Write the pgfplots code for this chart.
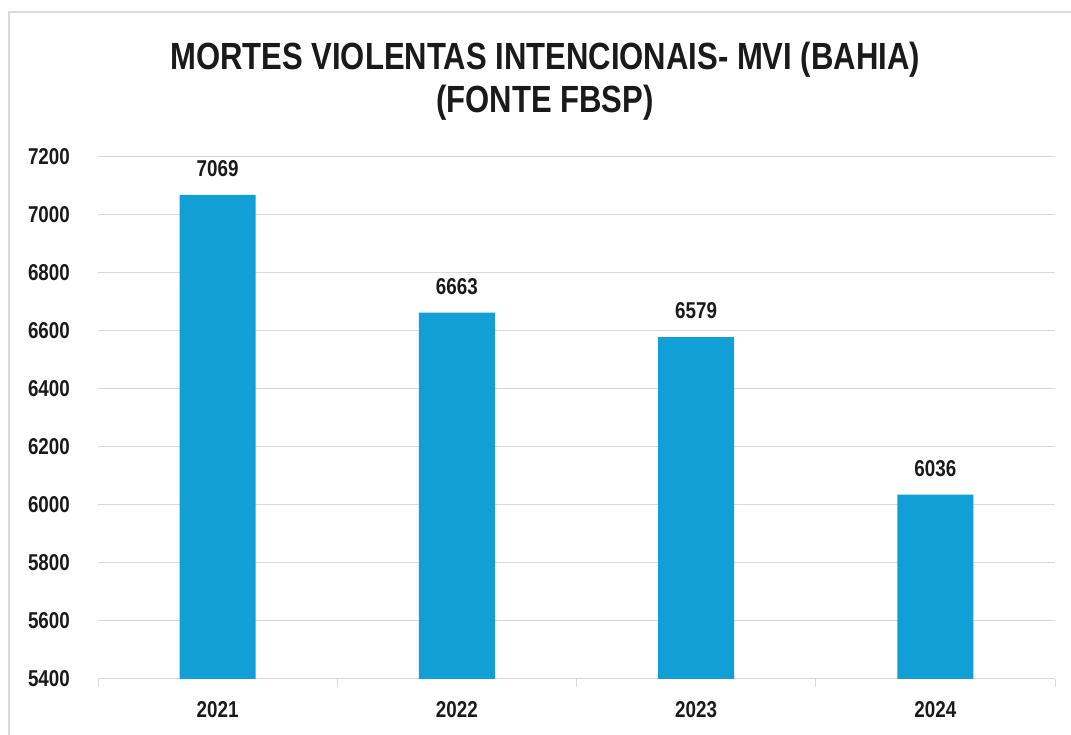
\documentclass[border=0pt]{standalone}
\usepackage{fontspec}
\setmainfont[FakeStretch=0.82]{Liberation Sans}
\usepackage{pgfplots}
\pgfplotsset{compat=1.18}
\definecolor{barblue}{HTML}{119FD6}
\definecolor{gridgray}{HTML}{D9D9D9}
\definecolor{txt}{HTML}{1A1A1A}
\begin{document}
\begin{tikzpicture}[x=1bp,y=1bp]
\useasboundingbox (0,0) rectangle (1071,735);
\draw[gridgray, line width=1.5bp] (9,-5) -- (9,723) -- (1080,723);
\node[font=\fontsize{38}{43}\selectfont\bfseries, align=center, text=txt, inner sep=0pt] at (545,654) {MORTES VIOLENTAS INTENCIONAIS- MVI (BAHIA)\\(FONTE FBSP)};
\begin{axis}[
  at={(98bp,56bp)}, anchor=south west,
  width=957bp, height=522bp, scale only axis,
  xmin=-0.5, xmax=3.5, ymin=5400, ymax=7200,
  ytick={5400,5600,...,7200},
  xtick={0,1,2,3}, xticklabels={2021,2022,2023,2024},
  axis x line*=bottom, axis y line*=left,
  y axis line style={draw=none},
  x axis line style={gridgray, line width=1bp, -},
  ymajorgrids, grid style={gridgray, line width=1bp},
  major tick length=0pt,
  extra x ticks={-0.5,0.5,1.5,2.5,3.5}, extra x tick labels={},
  extra x tick style={major tick length=8bp, tick align=outside, tick style={gridgray, line width=1bp}, grid=none},
  /pgf/number format/assume math mode=true,
  /pgf/number format/1000 sep={},
  yticklabel style={font=\fontsize{23}{25}\selectfont\bfseries, text=txt, inner sep=0pt, anchor=east, xshift=-28bp},
  xticklabel style={font=\fontsize{23}{25}\selectfont\bfseries, text=txt, inner sep=0pt, anchor=north, yshift=-22bp},
  ybar, bar width=76bp,
  nodes near coords,
  every node near coord/.append style={font=\fontsize{23}{25}\selectfont\bfseries, text=txt, inner sep=0pt, anchor=south, yshift=18bp, /pgf/number format/assume math mode=true, /pgf/number format/1000 sep={}},
  clip=false,
]
\addplot[fill=barblue, draw=none] coordinates {(0,7069) (1,6663) (2,6579) (3,6036)};
\end{axis}
\end{tikzpicture}
\end{document}
